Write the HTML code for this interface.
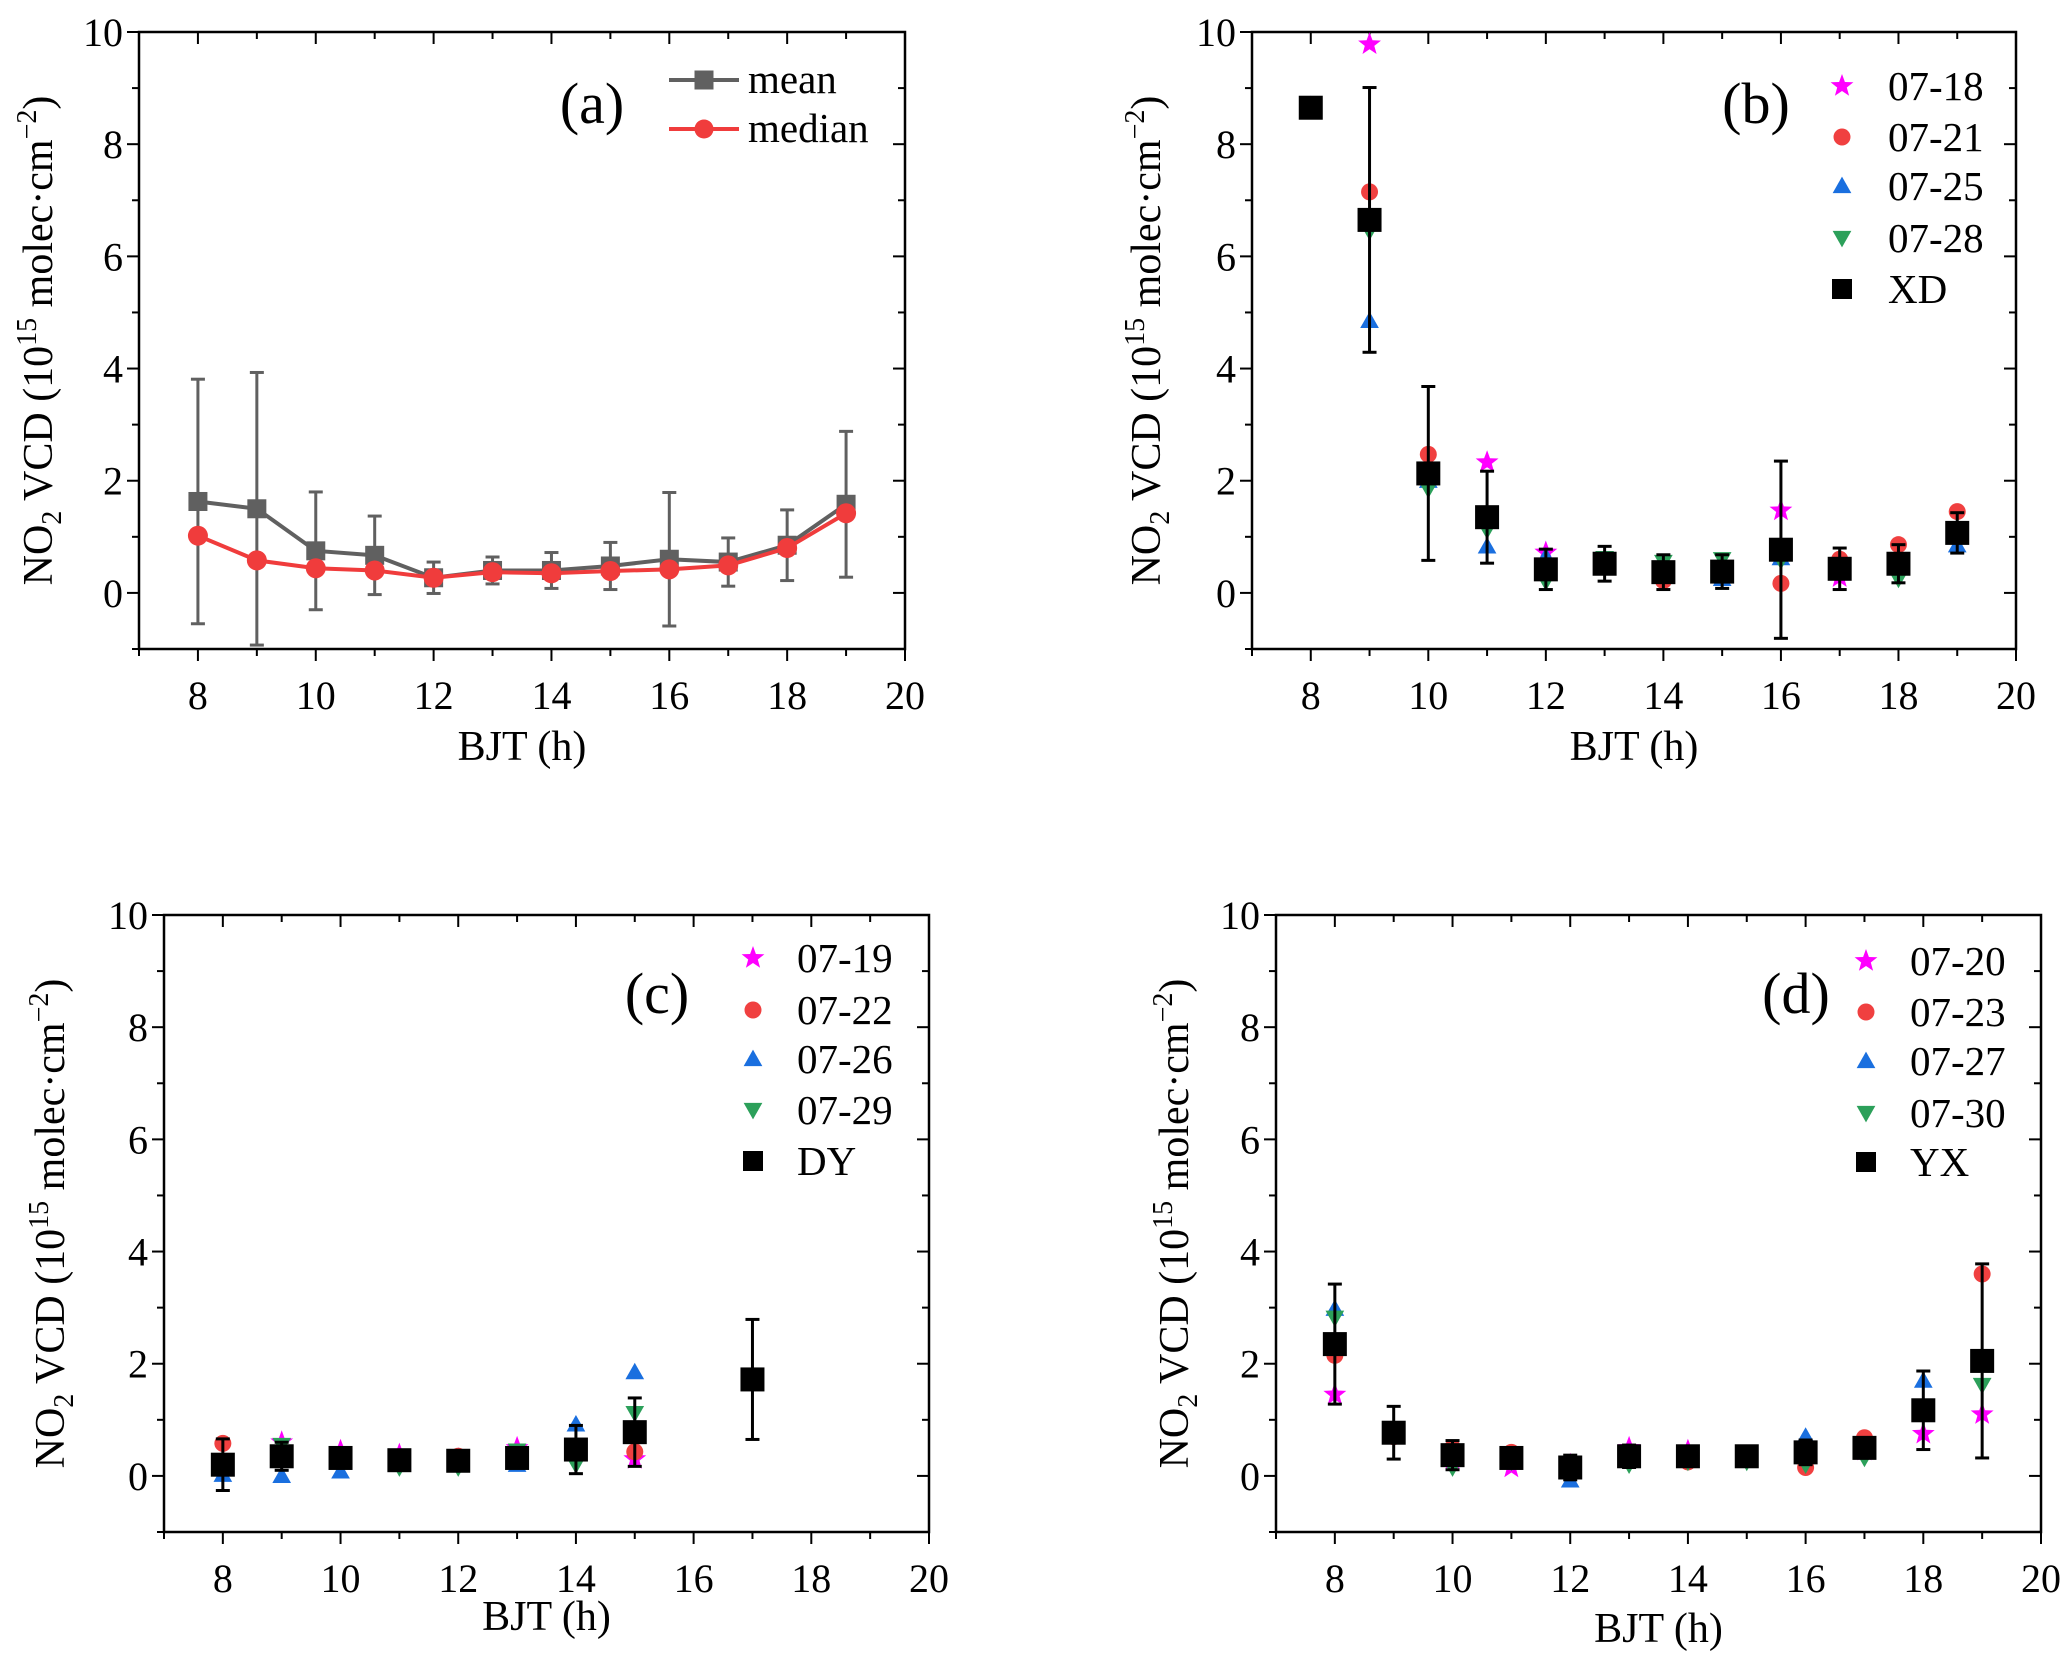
<!DOCTYPE html>
<html><head><meta charset="utf-8">
<style>
html,body{margin:0;padding:0;background:#fff;}
svg, svg text{font-family:"Liberation Serif","Times New Roman",serif;}
</style></head>
<body>
<svg id="fig" width="2067" height="1657" viewBox="0 0 2067 1657" xmlns="http://www.w3.org/2000/svg" font-family="Liberation Serif, serif"></svg>
<script>
// ---------- data ----------
const hoursA = [8,9,10,11,12,13,14,15,16,17,18,19];
const meanA = [1.63,1.5,0.75,0.67,0.27,0.4,0.4,0.48,0.6,0.55,0.85,1.58];
const meanErrA = [2.18,2.43,1.05,0.7,0.28,0.24,0.32,0.42,1.19,0.43,0.63,1.3];
const medianA = [1.02,0.58,0.44,0.4,0.27,0.37,0.35,0.39,0.42,0.49,0.8,1.42];

const hoursB = [8,9,10,11,12,13,14,15,16,17,18,19];
const xdB = [8.65,6.65,2.13,1.35,0.42,0.52,0.37,0.38,0.77,0.43,0.52,1.07];
const xdErrB = [0,2.36,1.55,0.82,0.36,0.31,0.31,0.3,1.58,0.37,0.34,0.36];
const d0718 = [null,9.78,null,2.33,0.72,0.5,0.35,0.35,1.47,0.28,0.5,1.1];
const d0721 = [null,7.15,2.47,1.3,0.4,0.55,0.22,0.4,0.17,0.6,0.86,1.45];
const d0725 = [8.7,4.85,2.0,0.83,0.65,0.5,0.4,0.25,0.62,0.5,0.5,0.85];
const d0728 = [null,6.45,1.85,1.12,0.2,0.62,0.55,0.6,0.58,0.4,0.25,1.0];

const hoursC = [8,9,10,11,12,13,14,15,16,17];
const dyC = [0.2,0.35,0.32,0.28,0.27,0.32,0.47,0.78,null,1.72];
const dyErrC = [0.46,0.25,0.15,0.1,0.08,0.12,0.43,0.61,0,1.07];
const d0719 = [null,0.6,0.45,0.38,0.3,0.5,null,0.3,null,null];
const d0722 = [0.58,0.4,0.35,0.3,0.35,0.35,0.5,0.43,null,null];
const d0726 = [0.02,0.0,0.08,0.25,0.25,0.2,0.92,1.85,null,null];
const d0729 = [0.15,0.55,0.3,0.15,0.15,0.45,0.2,1.12,null,null];

const hoursD = [8,9,10,11,12,13,14,15,16,17,18,19];
const yxD = [2.35,0.77,0.37,0.32,0.15,0.35,0.35,0.35,0.42,0.5,1.17,2.05];
const yxErrD = [1.07,0.47,0.26,0.17,0.22,0.2,0.13,0.13,0.22,0.15,0.7,1.73];
const d0720 = [1.45,null,0.3,0.15,0.2,0.5,0.45,0.35,0.3,0.45,0.75,1.1];
const d0723 = [2.15,0.7,0.5,0.42,0.2,0.35,0.25,0.4,0.15,0.68,null,3.6];
const d0727 = [2.98,null,0.35,0.3,-0.08,0.3,0.35,0.3,0.7,0.55,1.7,null];
const d0730 = [2.82,null,0.15,0.25,0.1,0.2,0.25,0.25,0.2,0.32,null,1.62];

const xTicks = [8,10,12,14,16,18,20];
const yTicks = [0,2,4,6,8,10];

// ---------- helpers ----------
const NS="http://www.w3.org/2000/svg";
const FF="Liberation Serif, Times New Roman, serif";
const svg=document.getElementById('fig');
function el(tag,attrs,parent){const e=document.createElementNS(NS,tag);for(const k in attrs)e.setAttribute(k,attrs[k]);if(tag==='text')e.setAttribute('font-family',FF);(parent||svg).appendChild(e);return e;}
const COL={star:'#ff00ff',circ:'#f04040',up:'#1a6fdf',down:'#2ca05a',sq:'#000'};

function marker(g,type,cx,cy,s,color,name){
  let m;
  if(type==='sq'){m=el('rect',{x:cx-s/2,y:cy-s/2,width:s,height:s,fill:color},g);}
  else if(type==='circ'){m=el('circle',{cx:cx,cy:cy,r:s/2,fill:color},g);}
  else if(type==='up'){m=el('polygon',{points:`${cx},${cy-s*0.55} ${cx-s*0.55},${cy+s*0.42} ${cx+s*0.55},${cy+s*0.42}`,fill:color},g);}
  else if(type==='down'){m=el('polygon',{points:`${cx},${cy+s*0.55} ${cx-s*0.55},${cy-s*0.42} ${cx+s*0.55},${cy-s*0.42}`,fill:color},g);}
  else {let p=[];for(let i=0;i<10;i++){const r=i%2?s*0.25:s*0.6;const a=-Math.PI/2+i*Math.PI/5;p.push((cx+r*Math.cos(a)).toFixed(1)+','+(cy+r*Math.sin(a)).toFixed(1));}
    m=el('polygon',{points:p.join(' '),fill:color},g);}
  
  
  return m;
}

function panel(P){
  const g=el('g',{});
  
  
  const X=v=>P.x0+(v-7)/(13)*(P.x1-P.x0);
  const Y=v=>P.y1-(v+1)/11*(P.y1-P.y0);
  P.X=X;P.Y=Y;
  const fr=el('rect',{x:P.x0,y:P.y0,width:P.x1-P.x0,height:P.y1-P.y0,fill:'none',stroke:'#000','stroke-width':2.5},g);
  
  for(let v=7;v<=20;v++){
    const maj=v%2===0,L=maj?12:7,x=X(v);
    el('line',{x1:x,y1:P.y1,x2:x,y2:P.y1+L,stroke:'#000','stroke-width':2},g);
    el('line',{x1:x,y1:P.y0,x2:x,y2:P.y0+L,stroke:'#000','stroke-width':2},g);
  }
  xTicks.forEach(v=>{const t=el('text',{x:X(v),y:P.y1+60,'font-size':40,'text-anchor':'middle'},g);t.textContent=v;
    });
  for(let v=-1;v<=10;v++){
    const maj=v%2===0,L=maj?12:7,y=Y(v);
    el('line',{x1:P.x0-L,y1:y,x2:P.x0,y2:y,stroke:'#000','stroke-width':2},g);
    el('line',{x1:P.x1-L,y1:y,x2:P.x1,y2:y,stroke:'#000','stroke-width':2},g);
  }
  yTicks.forEach(v=>{const t=el('text',{x:P.x0-16,y:Y(v)+14,'font-size':40,'text-anchor':'end'},g);t.textContent=v;
    });
  const xt=el('text',{x:(P.x0+P.x1)/2,y:P.xtY,'font-size':42,'text-anchor':'middle'},g);xt.textContent='BJT (h)';
  
  const cy=(P.y0+P.y1)/2;
  const yt=el('text',{x:P.ytX,y:cy,'font-size':42,'text-anchor':'middle',transform:`rotate(-90 ${P.ytX} ${cy})`},g);
  
  yt.innerHTML='NO<tspan font-size="28" dy="9">2</tspan><tspan dy="-9"> VCD (10</tspan><tspan font-size="28" dy="-16">15</tspan><tspan dy="16"> molec·cm</tspan><tspan font-size="28" dy="-16">−2</tspan><tspan dy="16">)</tspan>';
  const lt=el('text',{x:P.lx,y:P.ly,'font-size':58,'text-anchor':'middle'},g);lt.textContent='('+P.id+')';
  
  return g;
}

function errbar(g,x,y,e,color,w,cap){
  if(!e)return;
  el('line',{x1:x,y1:y(-e),x2:x,y2:y(e),stroke:color,'stroke-width':w},g);
  el('line',{x1:x-cap,y1:y(-e),x2:x+cap,y2:y(-e),stroke:color,'stroke-width':w},g);
  el('line',{x1:x-cap,y1:y(e),x2:x+cap,y2:y(e),stroke:color,'stroke-width':w},g);
}

// ---------- panel a ----------
const PA={id:'a',x0:139,x1:905,y0:32,y1:649,xtY:760,ytX:52,lx:592,ly:123};
const ga=panel(PA);
hoursA.forEach((h,i)=>{const x=PA.X(h);errbar(ga,x,d=>PA.Y(meanA[i]+d),meanErrA[i],'#606060',3,7);});
el('polyline',{points:hoursA.map((h,i)=>PA.X(h)+','+PA.Y(meanA[i])).join(' '),fill:'none',stroke:'#606060','stroke-width':4},ga);
hoursA.forEach((h,i)=>marker(ga,'sq',PA.X(h),PA.Y(meanA[i]),19,'#606060','mean-point'));
el('polyline',{points:hoursA.map((h,i)=>PA.X(h)+','+PA.Y(medianA[i])).join(' '),fill:'none',stroke:'#f03c3c','stroke-width':4},ga);
hoursA.forEach((h,i)=>marker(ga,'circ',PA.X(h),PA.Y(medianA[i]),20,'#f03c3c','median-point'));
[['mean','#606060','sq',80],['median','#f03c3c','circ',129]].forEach(([lab,c,t,y])=>{
  const lg=el('g',{},ga);
  el('line',{x1:669,y1:y,x2:739,y2:y,stroke:c,'stroke-width':4},lg);
  marker(lg,t,704,y,19,c,'legend-marker');
  const tx=el('text',{x:748,y:y+13,'font-size':41},lg);tx.textContent=lab;
});

// ---------- scatter panels ----------
function scatterPanel(P,hours,series,labels,main,mainErr,mainLab){
  const g=panel(P);
  const types=['star','circ','up','down'],cols=[COL.star,COL.circ,COL.up,COL.down];
  series.forEach((s,k)=>{hours.forEach((h,i)=>{if(s[i]!==null)marker(g,types[k],P.X(h),P.Y(s[i]),k===0?20:17,cols[k],'point-'+labels[k]);});});
  hours.forEach((h,i)=>{if(main[i]===null)return;const x=P.X(h);errbar(g,x,d=>P.Y(main[i]+d),mainErr[i],'#000',3,7);});
  hours.forEach((h,i)=>{if(main[i]!==null)marker(g,'sq',P.X(h),P.Y(main[i]),24,'#000','point-'+mainLab);});
  const allLab=labels.concat([mainLab]),allT=types.concat(['sq']),allC=cols.concat(['#000']);
  allLab.forEach((lab,k)=>{
    const y=P.legY[k];
    const lg=el('g',{},g);
    marker(lg,allT[k],P.legMX,y,k===4?20:(k===0?20:17),allC[k],'legend-marker');
    const tx=el('text',{x:P.legTX,y:y+14,'font-size':41},lg);tx.textContent=lab;
  });
}
scatterPanel({id:'b',x0:1252,x1:2016,y0:32,y1:649,xtY:760,ytX:1160,lx:1756,ly:123,legMX:1842,legTX:1888,legY:[86,137,186,238,289]},
  hoursB,[d0718,d0721,d0725,d0728],['07-18','07-21','07-25','07-28'],xdB,xdErrB,'XD');
scatterPanel({id:'c',x0:164,x1:929,y0:915,y1:1532,xtY:1630,ytX:64,lx:657,ly:1013,legMX:753,legTX:797,legY:[958,1010,1059,1110,1161]},
  hoursC,[d0719,d0722,d0726,d0729],['07-19','07-22','07-26','07-29'],dyC,dyErrC,'DY');
scatterPanel({id:'d',x0:1276,x1:2041,y0:915,y1:1532,xtY:1642,ytX:1188,lx:1796,ly:1013,legMX:1866,legTX:1910,legY:[961,1012,1061,1113,1162]},
  hoursD,[d0720,d0723,d0727,d0730],['07-20','07-23','07-27','07-30'],yxD,yxErrD,'YX');
</script>
</body></html>
